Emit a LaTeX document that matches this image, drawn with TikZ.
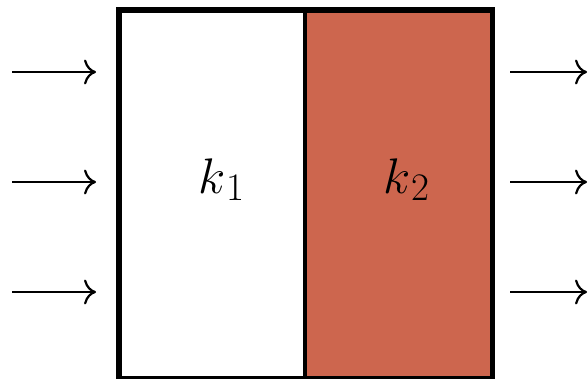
\RequirePackage{fix-cm}
\documentclass[tikz,border=0pt]{standalone}
\usetikzlibrary{arrows.meta}
\DeclareMathSizes{50}{50}{39}{30}
\definecolor{terra}{RGB}{205,102,78}
\newcommand{\subk}[1]{k_{\mkern1mu #1}}
\begin{document}
\begin{tikzpicture}[x=1pt,y=-1pt,
  cell/.style={draw=black,line width=3.5pt,minimum height=367pt,inner sep=0pt,anchor=north west},
  flow/.style={-{Computer Modern Rightarrow[length=12pt,width=25pt,line width=2.2pt]},line width=1.4pt,black},
  lab/.style={font=\fontsize{50}{60}\selectfont,anchor=base,inner sep=0pt}]
\useasboundingbox (0,0) rectangle (588,378);
\node[cell,minimum width=185pt,fill=white] (c1) at (118,9) {};
\node[cell,minimum width=187pt,fill=terra] (c2) at (303,9) {};
\draw[line width=3.5pt,line join=miter] (c1.north west) rectangle (c2.south east);
\node[lab] (k1) at (221.5,193) {$\subk{1}$};
\node[lab] (k2) at (406.5,193) {$\subk{2}$};
\foreach \i/\y in {a/72,b/182,c/292}{
  \coordinate (in\i) at (12,\y);
  \coordinate (ine\i) at (96,\y);
  \coordinate (out\i) at (510,\y);
  \coordinate (oute\i) at (587,\y);
  \draw[flow] (in\i) -- (ine\i);
  \draw[flow] (out\i) -- (oute\i);
}
\end{tikzpicture}
\end{document}
